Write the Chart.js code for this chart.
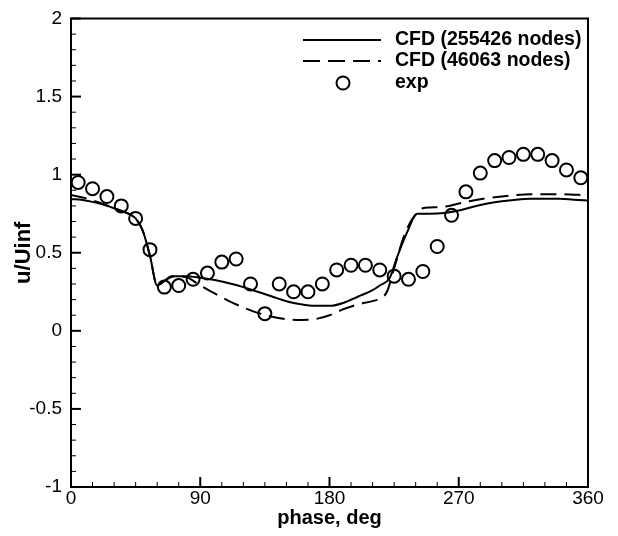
<!DOCTYPE html>
<html>
<head>
<meta charset="utf-8">
<script src="https://cdn.jsdelivr.net/npm/chart.js@4.4.1/dist/chart.umd.min.js"></script>
<style>
  html, body { margin: 0; padding: 0; background: #fff; }
  #wrap { width: 618px; height: 536px; }
</style>
</head>
<body>
<div id="wrap"><canvas id="plot" width="618" height="536"></canvas></div>
<script>
// CFD, fine mesh (255426 nodes)
const phaseFine = [0, 10, 20, 30, 40, 45, 50, 55, 60, 65, 70, 80, 90, 100, 110, 120, 130, 140, 150, 160, 170, 180,
  190, 200, 210, 215, 222, 227, 234, 241, 250, 260, 270, 280, 290, 300, 310, 320, 330, 340, 350, 360];
const uFine = [0.845, 0.835, 0.815, 0.785, 0.75, 0.72, 0.64, 0.48, 0.29, 0.32, 0.35, 0.35, 0.34, 0.325, 0.305, 0.28, 0.25, 0.22, 0.19, 0.17, 0.16, 0.16,
  0.18, 0.22, 0.26, 0.29, 0.34, 0.47, 0.63, 0.75, 0.75, 0.755, 0.77, 0.795, 0.815, 0.83, 0.84, 0.845, 0.845, 0.845, 0.84, 0.835];

// CFD, coarse mesh (46063 nodes)
const phaseCoarse = [0, 10, 20, 30, 40, 45, 50, 55, 60, 65, 72, 80, 90, 100, 110, 120, 130, 140, 150, 160, 170, 180,
  190, 200, 210, 216, 220, 225, 232, 238, 245, 250, 260, 270, 280, 290, 300, 310, 320, 330, 340, 350, 355];
const uCoarse = [0.87, 0.85, 0.82, 0.785, 0.75, 0.72, 0.64, 0.48, 0.29, 0.32, 0.35, 0.345, 0.29, 0.24, 0.19, 0.15, 0.115, 0.09, 0.075, 0.07, 0.075, 0.10,
  0.14, 0.17, 0.19, 0.21, 0.25, 0.40, 0.61, 0.72, 0.785, 0.79, 0.795, 0.815, 0.835, 0.85, 0.86, 0.87, 0.875, 0.875, 0.875, 0.872, 0.87];

// experiment
const phaseExp = [5, 15, 25, 35, 45, 55, 65, 75, 85, 95, 105, 115, 125, 135, 145, 155, 165, 175,
  185, 195, 205, 215, 225, 235, 245, 255, 265, 275, 285, 295, 305, 315, 325, 335, 345, 355];
const uExp = [0.95, 0.91, 0.86, 0.80, 0.72, 0.52, 0.28, 0.29, 0.33, 0.37, 0.44, 0.46, 0.30, 0.11, 0.30, 0.25, 0.25, 0.30,
  0.39, 0.42, 0.42, 0.39, 0.35, 0.33, 0.38, 0.54, 0.74, 0.89, 1.01, 1.09, 1.11, 1.13, 1.13, 1.09, 1.03, 0.98];

const seriesLabels = ['CFD (255426 nodes)', 'CFD (46063 nodes)', 'exp'];

const toXY = (xs, ys) => xs.map((v, i) => ({x: v, y: ys[i]}));

Chart.defaults.font.family = '"Liberation Sans", Arial, Helvetica, sans-serif';
Chart.defaults.color = '#000';

// frame, inward ticks and legend
const framePlugin = {
  id: 'framePlugin',
  afterDraw(chart) {
    const {ctx, chartArea: a, scales: {x, y}} = chart;
    ctx.save();
    ctx.strokeStyle = '#000';
    x.ticks.forEach(t => {
      const px = x.getPixelForValue(t.value);
      const major = Math.abs(t.value % 90) < 1e-6;
      ctx.lineWidth = major ? 2 : 1;
      ctx.beginPath();
      ctx.moveTo(px, a.bottom);
      ctx.lineTo(px, a.bottom - (major ? 10 : 5));
      ctx.stroke();
    });
    y.ticks.forEach(t => {
      const py = y.getPixelForValue(t.value);
      const major = Math.abs(t.value * 2 - Math.round(t.value * 2)) < 1e-6;
      ctx.lineWidth = major ? 2 : 1;
      ctx.beginPath();
      ctx.moveTo(a.left, py);
      ctx.lineTo(a.left + (major ? 10 : 5), py);
      ctx.stroke();
    });
    ctx.lineWidth = 2;
    ctx.strokeRect(a.left, a.top, a.right - a.left, a.bottom - a.top);

    // legend
    const ds = chart.data.datasets;
    ctx.font = 'bold 19.5px "Liberation Sans", Arial, sans-serif';
    ctx.fillStyle = '#000';
    ctx.textBaseline = 'middle';
    const rows = [40, 61, 83];
    ctx.lineWidth = 2;
    ctx.beginPath();
    ctx.moveTo(303, rows[0]); ctx.lineTo(381, rows[0]);
    ctx.stroke();
    ctx.setLineDash([17, 8]);
    ctx.beginPath();
    ctx.moveTo(303, rows[1]); ctx.lineTo(381, rows[1]);
    ctx.stroke();
    ctx.setLineDash([]);
    ctx.beginPath();
    ctx.arc(343, rows[2], 6.5, 0, Math.PI * 2);
    ctx.stroke();
    ds.forEach((d, i) => ctx.fillText(d.label, 395, rows[i]));
    ctx.restore();
  }
};

new Chart(document.getElementById('plot'), {
  type: 'scatter',
  data: {
    datasets: [{
      label: seriesLabels[0],
      data: toXY(phaseFine, uFine),
      showLine: true,
      borderColor: '#000',
      borderWidth: 2,
      pointRadius: 0,
      cubicInterpolationMode: 'monotone'
    }, {
      label: seriesLabels[1],
      data: toXY(phaseCoarse, uCoarse),
      showLine: true,
      borderColor: '#000',
      borderWidth: 2,
      borderDash: [16, 8],
      pointRadius: 0,
      cubicInterpolationMode: 'monotone'
    }, {
      label: seriesLabels[2],
      data: toXY(phaseExp, uExp),
      showLine: false,
      pointStyle: 'circle',
      pointRadius: 6.5,
      pointBorderWidth: 2,
      pointBorderColor: '#000',
      pointBackgroundColor: 'rgba(0,0,0,0)'
    }]
  },
  options: {
    responsive: false,
    animation: false,
    layout: {padding: {left: 0, right: 30, top: 10, bottom: 0}},
    plugins: {legend: {display: false}, tooltip: {enabled: false}},
    scales: {
      x: {
        type: 'linear',
        min: 0,
        max: 360,
        grid: {display: false, drawTicks: false},
        border: {display: false},
        ticks: {
          stepSize: 15,
          autoSkip: false,
          maxRotation: 0,
          padding: 2,
          font: {size: 19, lineHeight: 1},
          callback: v => (v % 90 === 0 ? String(v) : '')
        },
        title: {
          display: true,
          text: 'phase, deg',
          font: {size: 20, weight: 'bold'},
          padding: {top: 0, bottom: 6}
        },
        afterFit(scale) { scale.height = 49; }
      },
      y: {
        min: -1,
        max: 2,
        grid: {display: false, drawTicks: false},
        border: {display: false},
        ticks: {
          stepSize: 0.1,
          autoSkip: false,
          padding: 9,
          font: {size: 19, lineHeight: 1},
          callback: v => {
            const r = Math.round(v * 10) / 10;
            return Math.abs(r * 2 - Math.round(r * 2)) < 1e-6 ? String(r) : '';
          }
        },
        title: {
          display: true,
          text: 'u/Uinf',
          font: {size: 22, weight: 'bold'},
          padding: {top: 11, bottom: 0}
        },
        afterFit(scale) { scale.width = 71; }
      }
    }
  },
  plugins: [framePlugin]
});
</script>
</body>
</html>
